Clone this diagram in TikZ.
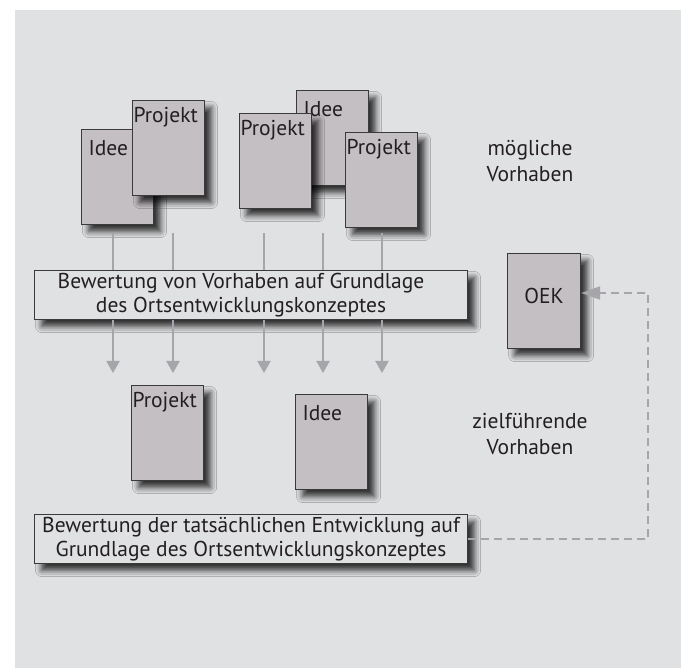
\documentclass[tikz,border=0pt]{standalone}
\usepackage{fontspec}
\setmainfont{PT Sans}
\usetikzlibrary{arrows.meta,shadows.blur}
\definecolor{panel}{HTML}{E0E1E3}
\definecolor{boxfill}{HTML}{C4BFC3}
\definecolor{boxline}{HTML}{3A3A3A}
\definecolor{conn}{HTML}{A5A5AA}
\definecolor{ink}{HTML}{231F20}
\tikzset{
  shadowed/.style={blur shadow={shadow xshift=7pt, shadow yshift=-7pt, shadow blur radius=6pt, shadow opacity=78}},
  docbox/.style={draw=boxline, fill=boxfill, line width=1.1pt, anchor=north west, inner ysep=0pt, align=left, text=ink, shadowed},
  projbox/.style={docbox, inner xsep=1pt, text width=70pt, text height=22pt, text depth=73pt},
  ideebox/.style={docbox, inner xsep=7pt, text width=58pt, text height=26pt, text depth=69pt},
  evalbox/.style={draw=boxline, fill=panel, line width=1.1pt, anchor=north west, minimum width=433pt, minimum height=49pt, inner sep=0pt, shadowed},
  evaltext/.style={align=center, text=ink, font=\fontsize{21.5}{24.5}\selectfont},
  sidetext/.style={align=center, text=ink, anchor=north, inner sep=0pt, font=\fontsize{21.5}{26.5}\selectfont},
  flow/.style={draw=conn, line width=2pt},
  flowarrow/.style={flow, -{Triangle[width=13pt,length=12pt]}},
  feedback/.style={draw=conn, line width=2pt, dash pattern=on 8pt off 5pt, -{Triangle[width=13pt,length=19pt]}}
}
\begin{document}
\begin{tikzpicture}[x=1pt,y=-1pt, font=\fontsize{21.5}{24}\selectfont]
\useasboundingbox (0,0) rectangle (686,668);
\fill[white] (0,0) rectangle (686,668);
\fill[panel] (15,10) rectangle (681,668);

% upper group of proposals
\node[ideebox] (i1) at (81,129) {Idee};
\node[projbox] (p1) at (132,100) {Projekt};
\node[ideebox] (i2) at (296,90) {Idee};
\node[projbox] (p2) at (239,113) {Projekt};
\node[projbox] (p3) at (345,132) {Projekt};

\node[sidetext] (moeg) at (530,140) {mögliche\\Vorhaben};

% first evaluation box
\node[evalbox, label={[evaltext, xshift=-10pt]center:Bewertung von Vorhaben auf Grundlage\\des Ortsentwicklungskonzeptes}] (bw1) at (34,270) {};

% OEK
\node[docbox, inner xsep=0pt, text width=73pt, align=center, text height=50pt, text depth=45pt] (oek) at (507,253) {OEK};

% connectors into and out of bw1
\foreach \n/\x in {a/113,b/173,c/264,d/323,e/382}{
  \coordinate (top\n) at (\x,233);
  \coordinate (end\n) at (\x,373);
  \draw[flow] (top\n) -- (top\n |- bw1.north);
  \draw[flowarrow] (top\n |- bw1.south) -- (end\n);
}

% lower group
\node[projbox] (p4) at (131,385) {Projekt};
\node[ideebox] (i3) at (295,394) {Idee};

\node[sidetext] (ziel) at (530,413) {zielführende\\Vorhaben};

% second evaluation box
\node[evalbox, label={[evaltext]center:Bewertung der tatsächlichen Entwicklung auf\\Grundlage des Ortsentwicklungskonzeptes}] (bw2) at (34,514) {};

% feedback loop
\coordinate (turn) at (648,293);
\draw[feedback] (bw2.east) -| (turn) -- (turn -| oek.east);
\end{tikzpicture}
\end{document}
